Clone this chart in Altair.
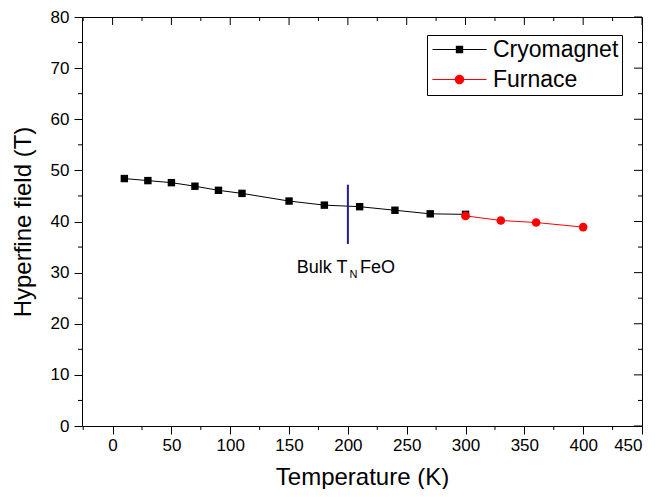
import altair as alt
import pandas as pd

# ---- data ----
cryo_T = [10, 30, 50, 70, 90, 110, 150, 180, 210, 240, 270, 300]
cryo_B = [48.4, 48.0, 47.6, 46.9, 46.1, 45.5, 44.0, 43.2, 42.9, 42.2, 41.5, 41.4]
furn_T = [300, 330, 360, 400]
furn_B = [41.1, 40.2, 39.8, 38.9]
series_names = ["Cryomagnet", "Furnace"]
series_colors = ["black", "red"]

tn_T = [200]
tn_lo = [35.6]
tn_hi = [47.2]
tn_label_y = [29.9]

x_major = [0, 50, 100, 150, 200, 250, 300, 350, 400, 450]
x_minor = [-25, 25, 75, 125, 175, 225, 275, 325, 375, 425]
y_major = [0, 10, 20, 30, 40, 50, 60, 70, 80]
y_minor = [5, 15, 25, 35, 45, 55, 65, 75]

W, H = 560, 409
FONT = "Liberation Sans"

cryo = pd.DataFrame({"T": cryo_T, "B": cryo_B, "series": series_names[0]})
furn = pd.DataFrame({"T": furn_T, "B": furn_B, "series": series_names[1]})
both = pd.concat([cryo, furn], ignore_index=True)
tn = pd.DataFrame({"T": tn_T, "lo": tn_lo, "hi": tn_hi, "ly": tn_label_y})

xs = alt.Scale(domain=[-26, 450], nice=False, zero=False)
ys = alt.Scale(domain=[0, 80], nice=False, zero=False)

x_axis = alt.Axis(values=x_major, title="Temperature (K)", tickSize=8, labelFontSize=17,
                  labelPadding=3, titleFontSize=24, titlePadding=12, format="d")
y_axis = alt.Axis(values=y_major, title="Hyperfine field (T)", tickSize=8, labelFontSize=17,
                  labelPadding=5, titleFontSize=24, titlePadding=15, format="d")


def X(f="T"):
    return alt.X(f"{f}:Q", scale=xs, axis=x_axis)


def Y(f="B"):
    return alt.Y(f"{f}:Q", scale=ys, axis=y_axis)


line_cryo = alt.Chart(cryo).mark_line(color="black", strokeWidth=1).encode(x=X(), y=Y())
line_furn = alt.Chart(furn).mark_line(color="red", strokeWidth=1).encode(x=X(), y=Y())
pts_cryo = alt.Chart(cryo).mark_square(size=55, color="black", opacity=1).encode(x=X(), y=Y())
pts_furn = alt.Chart(furn).mark_circle(size=75, color="red", opacity=1).encode(x=X(), y=Y())

tn_rule = alt.Chart(tn).mark_rule(color="#1f1f8f", strokeWidth=2).encode(
    x=X(), y=Y("lo"), y2="hi:Q")

txt1 = alt.Chart(tn).mark_text(text="Bulk T", align="right", baseline="alphabetic",
                               fontSize=18, font=FONT, dx=-0.5, color="black").encode(x=X(), y=Y("ly"))
txt2 = alt.Chart(tn).mark_text(text="N", align="left", baseline="alphabetic",
                               fontSize=11, font=FONT, dx=1.5, dy=5, color="black").encode(x=X(), y=Y("ly"))
txt3 = alt.Chart(tn).mark_text(text="FeO", align="left", baseline="alphabetic",
                               fontSize=18, font=FONT, dx=12, color="black").encode(x=X(), y=Y("ly"))

xmaj = pd.DataFrame({"v": x_major})
xmin = pd.DataFrame({"v": x_minor})
ymaj = pd.DataFrame({"v": y_major})
ymin = pd.DataFrame({"v": y_minor})


def rx(df, y1, y2):
    return alt.Chart(df).mark_rule(color="black", strokeWidth=1).encode(
        x=X("v"), y=alt.value(y1), y2=alt.value(y2))


def ry(df, x1, x2):
    return alt.Chart(df).mark_rule(color="black", strokeWidth=1).encode(
        y=Y("v"), x=alt.value(x1), x2=alt.value(x2))


ticks = [
    rx(xmin, H, H + 4),        # bottom minor
    rx(xmaj, 0, 8),            # top major inward
    rx(xmin, 0, 4),            # top minor inward
    ry(ymin, 0, -4),           # left minor
    ry(ymaj, W, W - 8),        # right major inward
    ry(ymin, W, W - 4),        # right minor inward
]

sq_path = "M-3,-0.06H3V0.06H-3Z M-0.41,-0.41H0.41V0.41H-0.41Z"
ci_path = ("M-3,-0.06H3V0.06H-3Z M-0.53,0A0.53,0.53,0,1,1,0.53,0"
           "A0.53,0.53,0,1,1,-0.53,0Z")

legend = alt.Legend(orient="none", legendX=345, legendY=18, title=None,
                    labelFontSize=23, labelFont=FONT, labelColor="black",
                    symbolSize=324, symbolOffset=18, labelOffset=22,
                    strokeColor="black", fillColor="white", padding=3, rowPadding=6,
                    symbolStrokeWidth=0, direction="vertical")

leg_layer = alt.Chart(both).mark_point(filled=True, opacity=1).encode(
    x=X(), y=Y(),
    color=alt.Color("series:N", scale=alt.Scale(domain=series_names, range=series_colors),
                    legend=legend),
    shape=alt.Shape("series:N", scale=alt.Scale(domain=series_names, range=[sq_path, ci_path]),
                    legend=legend),
).transform_filter("false")

chart = alt.layer(
    line_cryo, line_furn, pts_cryo, pts_furn, tn_rule, txt1, txt2, txt3,
    *ticks, leg_layer
).properties(
    width=W, height=H,
    autosize=alt.AutoSizeParams(type="none"),
    padding={"left": 74, "top": 9, "right": 22, "bottom": 63},
).configure_view(
    stroke="black", strokeWidth=1
).configure_axis(
    grid=False, domainColor="black", tickColor="black", labelColor="black",
    titleColor="black", labelFont=FONT, titleFont=FONT, titleFontWeight="normal",
    domainWidth=1, tickWidth=1
).configure_text(font=FONT)

chart.save("out.html", embed_options={"renderer": "svg", "actions": False})
